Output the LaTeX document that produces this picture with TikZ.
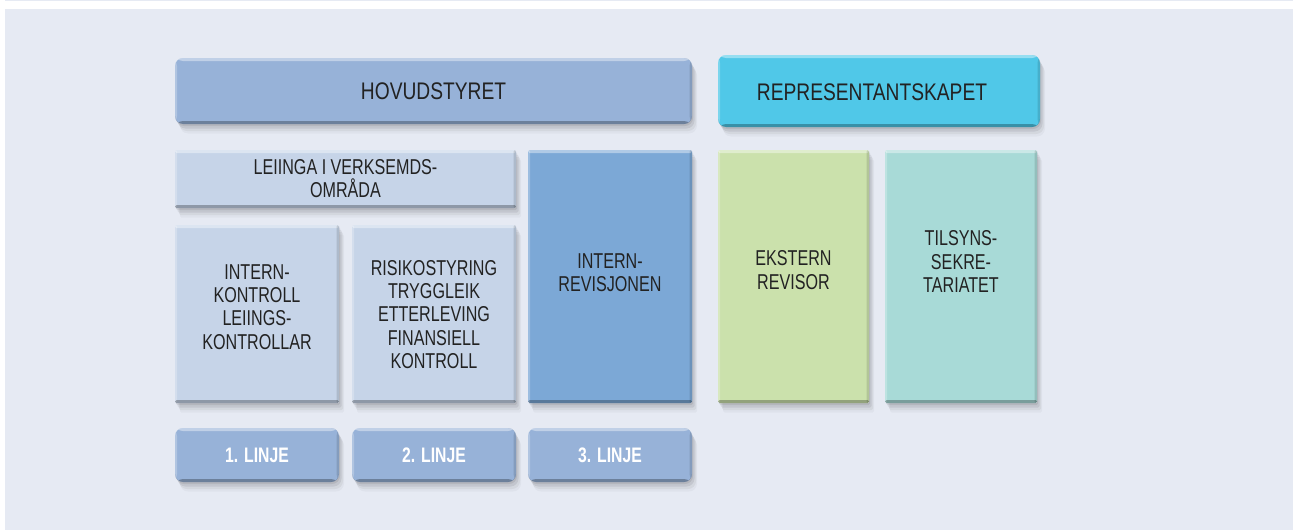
\documentclass[tikz,border=0pt]{standalone}
\usepackage{fontspec}
\newfontfamily\headfont{Liberation Sans}[FakeStretch=0.80]
\newfontfamily\boxfont{Liberation Sans}[FakeStretch=0.75]
\usetikzlibrary{shadows}
\definecolor{bgc}{HTML}{E6EAF3}
\definecolor{hovc}{HTML}{97B2D8}
\definecolor{repc}{HTML}{50C8E8}
\definecolor{lightc}{HTML}{C6D4E8}
\definecolor{irevc}{HTML}{7CA8D6}
\definecolor{eksc}{HTML}{CBE1AC}
\definecolor{tilc}{HTML}{A8DAD7}
\definecolor{txtc}{HTML}{222222}
\tikzset{
  softshade/.style={
    general shadow={shadow xshift=1pt, shadow yshift=-2pt, fill=black, opacity=0.08},
    general shadow={shadow xshift=2.5pt, shadow yshift=-4.5pt, fill=black, opacity=0.07},
    general shadow={shadow xshift=4pt, shadow yshift=-7pt, fill=black, opacity=0.05},
    general shadow={shadow xshift=5pt, shadow yshift=-9.5pt, fill=black, opacity=0.03}},
  panel/.style={softshade, inner sep=0pt, draw=none,
    path picture={
      \fill[white,opacity=0.4] (path picture bounding box.north west) rectangle ([yshift=-3pt]path picture bounding box.north east);
      \fill[white,opacity=0.25] (path picture bounding box.north west) rectangle ([xshift=2pt]path picture bounding box.south west);
      \fill[black,opacity=0.12] ([xshift=-2.5pt]path picture bounding box.north east) rectangle (path picture bounding box.south east);
      \fill[black,opacity=0.28] (path picture bounding box.south west) rectangle ([yshift=3pt]path picture bounding box.south east);
    }},
  rbox/.style={panel, rounded corners=8pt},
  sbox/.style={panel, rounded corners=1.5pt},
  headtxt/.style={font=\headfont\fontsize{24}{26}\selectfont, text=txtc, inner sep=0pt},
  boxtxt/.style={font=\boxfont\fontsize{21.5}{23.2}\selectfont, text=txtc, align=center, inner sep=0pt},
  linjetxt/.style={font=\boxfont\bfseries\fontsize{21}{23}\selectfont, text=white, inner sep=0pt}
}
\begin{document}
\begin{tikzpicture}[x=1pt,y=-1pt]
\useasboundingbox (0,0) rectangle (1293,530);
\fill[white] (0,0) rectangle (1293,530);
\fill[bgc] (5,9) rectangle (1293,530);
\fill[bgc] (5,0) rectangle (1293,1);

% top row
\node[rbox, fill=hovc, minimum width=517pt, minimum height=66pt] (hov) at (433.5,91) {};
\node[headtxt] (hovt) at (hov.center) {HOVUDSTYRET};
\node[rbox, fill=repc, minimum width=322pt, minimum height=72pt] (rep) at (879,91) {};
\node[headtxt] (rept) at (872,92) {REPRESENTANTSKAPET};

% management
\node[sbox, fill=lightc, minimum width=341pt, minimum height=58pt] (lei) at (345.5,179) {};
\node[boxtxt] (leit) at (345.5,178.5) {LEIINGA I VERKSEMDS-\\OMRÅDA};

\node[sbox, fill=lightc, minimum width=164pt, minimum height=178pt] (ik) at (257,314) {};
\node[boxtxt] (ikt) at (257,307) {INTERN-\\KONTROLL\\LEIINGS-\\KONTROLLAR};

\node[sbox, fill=lightc, minimum width=164pt, minimum height=178pt] (risk) at (434,314) {};
\node[boxtxt] (riskt) at (434,314.5) {RISIKOSTYRING\\TRYGGLEIK\\ETTERLEVING\\FINANSIELL\\KONTROLL};

\node[sbox, fill=irevc, minimum width=164pt, minimum height=253pt] (irev) at (610,276.5) {};
\node[boxtxt] (irevt) at (610,272.5) {INTERN-\\REVISJONEN};

\node[sbox, fill=eksc, minimum width=151pt, minimum height=253pt] (eks) at (793.5,276.5) {};
\node[boxtxt] (ekst) at (793.5,270) {EKSTERN\\REVISOR};

\node[sbox, fill=tilc, minimum width=152pt, minimum height=253pt] (til) at (961,276.5) {};
\node[boxtxt] (tilt) at (961,261.5) {TILSYNS-\\SEKRE-\\TARIATET};

% lines
\node[rbox, fill=hovc, minimum width=164pt, minimum height=54pt] (l1) at (257,455) {};
\node[linjetxt] (l1t) at (l1.center) {1. LINJE};
\node[rbox, fill=hovc, minimum width=164pt, minimum height=54pt] (l2) at (434,455) {};
\node[linjetxt] (l2t) at (l2.center) {2. LINJE};
\node[rbox, fill=hovc, minimum width=164pt, minimum height=54pt] (l3) at (610,455) {};
\node[linjetxt] (l3t) at (l3.center) {3. LINJE};
\end{tikzpicture}
\end{document}
